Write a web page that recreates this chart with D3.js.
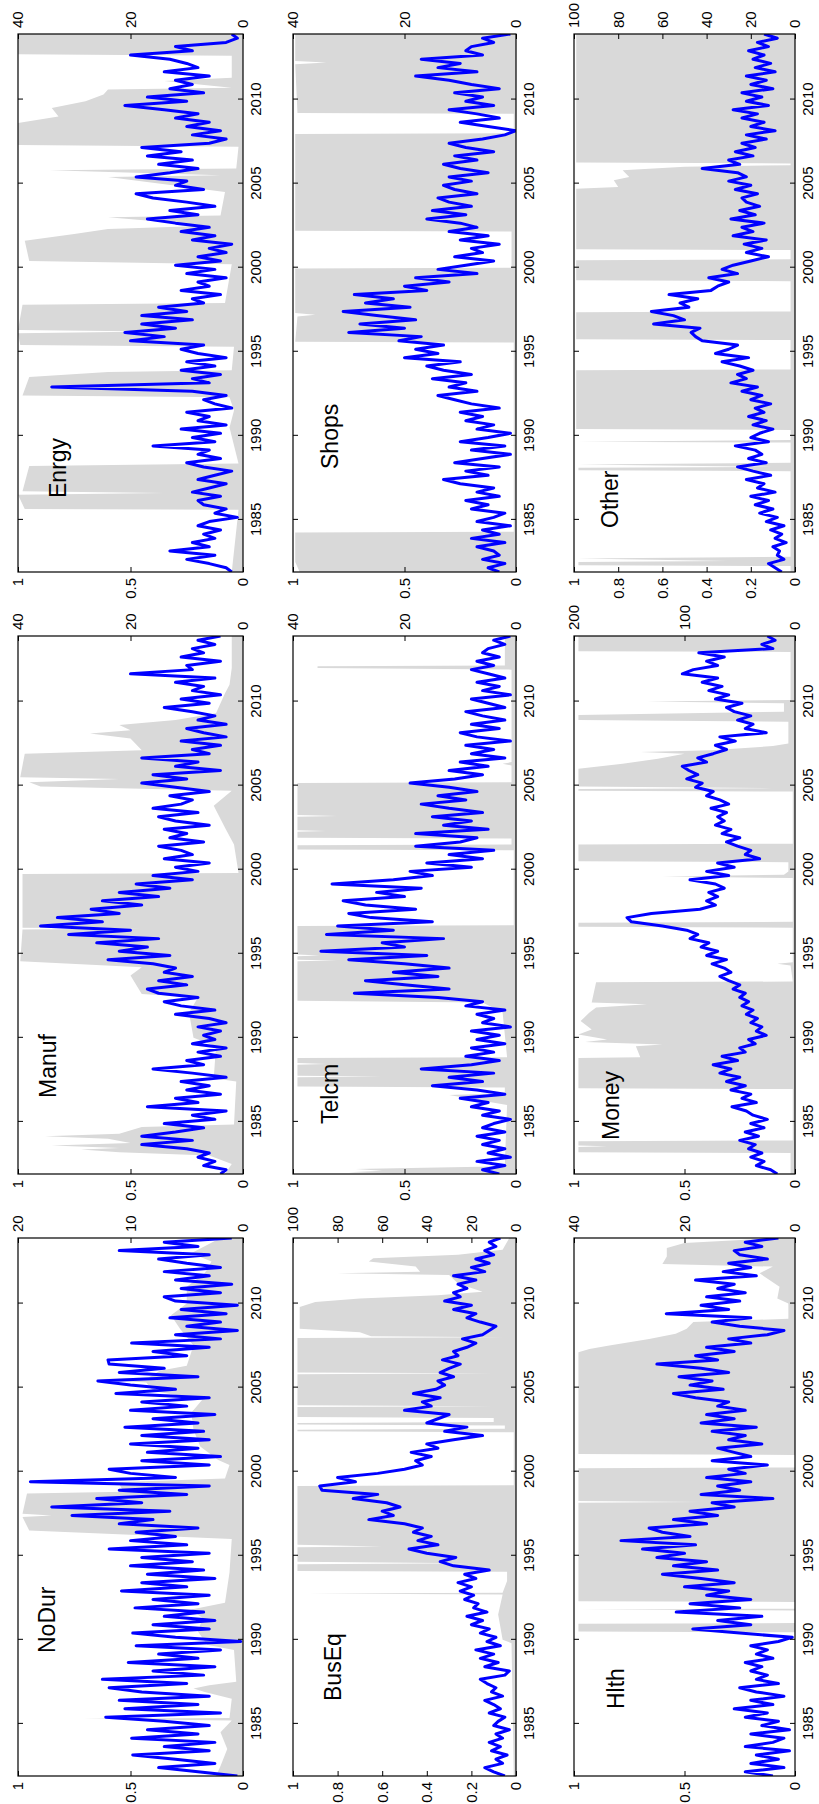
<!DOCTYPE html>
<html>
<head>
<meta charset="utf-8">
<script src="https://cdn.jsdelivr.net/npm/d3@7"></script>
<style>
  body { margin: 0; background: #fff; }
  text { font-family: "Liberation Sans", Arial, Helvetica, sans-serif; }
</style>
</head>
<body>
<div id="chart"></div>
<script>
// industries, in the order of the original (landscape) 3x3 grid
const industries = ["NoDur", "Manuf", "Enrgy", "BusEq", "Telcm", "Shops", "Hlth", "Money", "Other"];
const volMax = [20, 40, 40, 100, 40, 40, 40, 200, 100];
const volTicks = [
  [0, 10, 20], [0, 20, 40], [0, 20, 40],
  [0, 20, 40, 60, 80, 100], [0, 20, 40], [0, 20, 40],
  [0, 20, 40], [0, 100, 200], [0, 20, 40, 60, 80, 100]
];
const probTicks = [
  [0, 0.5, 1], [0, 0.5, 1], [0, 0.5, 1],
  [0, 0.2, 0.4, 0.6, 0.8, 1], [0, 0.5, 1], [0, 0.5, 1],
  [0, 0.5, 1], [0, 0.5, 1], [0, 0.2, 0.4, 0.6, 0.8, 1]
];
const yearTicks = [1985, 1990, 1995, 2000, 2005, 2010];
const yearDomain = [1981.9, 2013.9];

// volatility (blue, right axis), quarterly readings starting at seriesStart
const seriesStart = 1981.9, seriesStep = 0.25;

const volNoDur = [0.5,
  4, 7.5, 2.5, 6,  9.8, 3, 7, 2.5,  9.9, 4, 8.5, 3,  7, 12.2, 2, 10.5,
  4, 11, 3, 9,  11.9, 5, 12.5, 3.5,  8, 2.5, 10.2, 4,  7.5, 2, 9.5, 0.2,
  6, 9.8, 3, 8,  2.5, 7, 3.5, 9.6,  4, 8, 3, 10.8,  5, 9, 2.5, 8.5,
  3.5, 10, 4.5, 9,  3, 11.9, 5, 10,  6, 9.5, 4, 11,  8, 15.2, 6.5, 17,
  9, 13, 5, 11,  3, 18.9, 6, 10,  11.9, 3, 9, 2,  8.5, 4, 10, 3,
  9, 3.5, 10.5, 4,  8, 2.5, 10, 5,  9, 3, 11.3, 6,  10, 12.9, 4, 11,
  7, 11.9, 12, 5,  8, 3, 9.9, 2,  6, 0.5, 5, 2,  6.5, 1.5, 5.5, 0.5,
  6, 7, 2, 5.5,  1, 6, 3, 7,  2, 5, 7.5, 3,  11, 4, 7, 1];

const volManuf = [4,
  3, 7, 5, 8,  6, 10, 18, 9,  18, 12, 7, 14,  5, 9, 3, 17,
  8, 12, 4, 10,  6, 11, 3, 9,  16, 7, 10, 4,  8, 3, 9, 5,
  7, 4, 8, 3,  6, 12, 5, 11,  14, 8, 15, 17,  10, 15, 9, 14,
  12, 16, 24, 13,  22, 17, 26, 15,  31, 20, 36, 25,  33, 22, 27, 18,
  25, 15, 22, 13,  19, 9, 16, 8,  12, 6, 14, 9,  11, 15, 7, 13,
  10, 14, 6, 12,  15, 8, 16, 11,  9, 13, 6, 12,  18, 10, 16, 4,
  12, 8, 18, 6,  9, 4, 11, 3,  7, 10, 3, 8,  5, 9, 14, 6,
  11, 4, 9, 7,  12, 5, 20, 9,  10, 4, 11, 7,  9, 5, 8, 4];

const volEnrgy = [2,
  3, 6, 10, 5,  13, 6, 9, 5,  7, 4, 8, 6,  1, 5, 3, 7,
  8, 4, 9, 6,  3, 8, 5, 2,  7, 10, 4, 8,  6, 16, 5, 9,
  4, 11, 3, 8,  6, 10, 2, 5,  7, 3, 9, 34,  6, 9, 4, 11,
  5, 10, 3, 8,  11, 7, 20, 14,  21, 12, 18, 9,  18, 10, 15, 7,
  9, 4, 11, 6,  8, 3, 10, 5,  12, 4, 8, 3,  6, 2, 9, 5,
  11, 6, 12, 17,  8, 13, 5, 10,  16, 19, 7, 12,  10, 19, 13, 8,
  15, 9, 17, 11,  18, 6, 3, 9,  4, 10, 6, 12,  8, 14, 21, 10,
  17, 7, 13, 9,  12, 6, 14, 8,  10, 13, 20, 9,  12, 3, 1, 2];

const volBusEq = [5,
  10, 14, 6, 9,  4, 11, 7, 12,  6, 9, 3, 10,  8, 5, 12, 7,
  10, 14, 6, 11,  9, 13, 16, 5,  3, 14, 8, 16,  10, 18, 7, 13,
  9, 16, 12, 20,  15, 22, 13, 19,  17, 23, 19, 25,  20, 26, 18, 23,
  12, 28, 34, 27,  40, 48, 35, 44,  38, 46, 42, 50,  66, 55, 60, 52,
  58, 73, 62, 87,  88, 72, 80, 62,  50, 42, 45, 38,  47, 35, 40, 28,
  15, 32, 22, 40,  35, 30, 50, 38,  42, 34, 46, 36,  32, 35, 28, 34,
  30, 25, 33, 26,  28, 22, 18, 24,  15, 12, 9, 16,  22, 18, 28, 20,
  32, 25, 28, 22,  26, 18, 28, 14,  20, 12, 18, 10,  14, 9, 12, 7];

const volTelcm = [3,
  6, 2, 7, 1,  5, 2, 6, 3,  7, 2, 6, 4,  1, 6, 3, 8,
  5, 10, 2, 7,  15, 6, 12, 4,  17, 8, 3, 9,  4, 8, 2, 7,
  3, 8, 1, 6,  4, 7, 2, 9,  6, 14, 29, 12,  20, 27, 14, 22,
  12, 20, 30, 16,  35, 20, 24, 13,  34, 22, 32, 15,  26, 30, 18, 27,
  31, 20, 25, 17,  33, 22, 15, 19,  8, 16, 6, 12,  4, 18, 10, 7,
  18, 5, 13, 8,  15, 6, 12, 17,  9, 14, 7, 12,  19, 11, 6, 12,
  5, 10, 2, 8,  4, 9, 1, 7,  10, 3, 8, 2,  6, 9, 2, 5,
  8, 1, 6, 3,  7, 2, 5, 8,  4, 7, 3, 6,  5, 2, 4, 1];

const volShops = [3,
  5, 2, 6, 3,  4, 7, 2, 8,  3, 6, 1, 7,  4, 2, 8, 5,
  9, 3, 7, 4,  10, 13, 5, 9,  3, 11, 6, 1,  8, 2, 10, 5,
  1, 7, 4, 9,  6, 10, 3, 8,  11, 14, 7, 12,  9, 15, 8, 13,
  16, 10, 20, 14,  18, 13, 21, 17,  30, 20, 28, 18,  25, 31, 19, 27,
  22, 29, 16, 20,  12, 18, 7, 14,  9, 4, 11, 6,  8, 3, 10, 5,
  12, 7, 10, 16,  9, 15, 8, 12,  14, 7, 11, 13,  8, 12, 5, 10,
  13, 7, 11, 4,  9, 12, 6, 2,  0, 5, 10, 3,  7, 12, 4, 9,
  6, 11, 3, 8,  12, 18, 7, 14,  10, 17, 6, 9,  8, 4, 6, 1];

const volHlth = [4,
  9, 2, 8, 3,  7, 1, 9, 4,  2, 8, 1, 6,  3, 9, 5, 11,
  4, 8, 2, 7,  10, 3, 7, 5,  8, 6, 9, 4,  7, 5, 8, 3,
  0.5, 10, 18.5, 8,  14, 6, 21.5, 10,  19, 8, 16, 12,  20, 11, 17, 24,
  14, 22, 16, 25,  20, 27.6, 18, 31.5,  19, 24, 26.4, 16,  22, 14, 19, 11,
  15, 4, 17, 10,  14, 8, 16, 9,  12, 5, 15, 8,  11, 14, 6, 12,
  9, 15, 7, 17,  11, 16, 9, 14,  12, 18, 22, 13,  19, 15, 21, 12,
  17, 25, 14, 18,  11, 16, 8, 12,  5, 2, 10, 15,  8, 23.3, 12, 17,
  10, 16, 9, 14,  11, 18, 7, 13,  8, 12, 5, 10,  11, 6, 9, 3];

const volMoney = [16,
  22, 35, 28, 40,  30, 42, 36, 50,  33, 45, 28, 40,  25, 38, 44, 57,
  35, 48, 40, 58,  45, 62, 50, 68,  58, 74, 52, 66,  45, 50, 36, 42,
  26, 35, 30, 40,  34, 44, 38, 48,  42, 50, 45, 56,  50, 60, 68, 58,
  64, 75, 62, 80,  70, 85, 78, 95,  88, 98, 120, 148,  152, 130, 86, 72,
  80, 70, 78, 64,  72, 95, 60, 80,  55, 70, 32, 45,  40, 52, 62, 50,
  66, 58, 72, 64,  70, 62, 76, 60,  68, 80, 74, 90,  84, 98, 88, 96,
  102, 80, 88, 74,  62, 72, 54, 68,  26, 45, 38, 52,  40, 55, 62, 48,
  72, 60, 78, 66,  84, 70, 102, 92,  70, 80, 64, 87,  20, 30, 18, 25];

const volOther = [6,
  9, 12, 5, 8,  7, 10, 4, 9,  6, 11, 5, 13,  8, 16, 10, 18,
  12, 20, 9, 17,  14, 22, 11, 19,  26, 13, 21, 15,  18, 27, 12, 20,
  16, 10, 19, 13,  21, 14, 18, 11,  20, 15, 24, 17,  29, 22, 26, 19,
  25, 33, 21, 36,  30, 26, 42, 45,  47, 43, 64, 50,  55, 65, 48, 52,
  44, 57, 38, 35,  30, 39, 26, 33,  28, 20, 12, 22,  15, 23, 13, 28,
  19, 24, 14, 29,  18, 25, 16, 22,  24, 17, 27, 20,  30, 22, 26, 42,
  25, 30, 19, 27,  18, 24, 13, 22,  9, 20, 14, 24,  17, 28, 12, 22,
  15, 24, 10, 20,  13, 22, 9, 18,  11, 19, 14, 21,  12, 17, 8, 14];

// regime probability (grey area, left axis): [year, probability]
const probNoDur = [[1981.9, 0.12], [1982.5, 0.1], [1983.5, 0.07], [1984.5, 0.1], [1985.2, 0.05], [1985.3, 0.71],
  [1985.35, 0.06], [1986.5, 0.05], [1986.9, 0.17], [1987.1, 0.22], [1987.3, 0.15], [1987.5, 0.03], [1989.4, 0.04],
  [1989.7, 0.16], [1990.5, 0.2], [1991.3, 0.18], [1991.8, 0.23], [1992.2, 0.08], [1994.0, 0.06], [1996.0, 0.05],
  [1996.5, 0.95], [1997.3, 0.98], [1997.4, 0.85], [1997.5, 0.98], [1998.7, 0.96], [1998.8, 0.53], [1999.25, 0.55],
  [1999.3, 0.92], [1999.4, 0.5], [1999.6, 0.08], [2000.4, 0.06], [2000.7, 0.11], [2001.5, 0.19], [2002.5, 0.22],
  [2003.5, 0.23], [2004.3, 0.18], [2004.8, 0.4], [2005.3, 0.43], [2005.5, 0.65], [2005.6, 0.42], [2006.0, 0.37],
  [2006.3, 0.25], [2007.5, 0.22], [2008.5, 0.28], [2009.3, 0.32], [2010.0, 0.25], [2011.0, 0.25], [2011.8, 0.17],
  [2012.5, 0.14], [2013.0, 0.23], [2013.9, 0.1]];

const probManuf = [[1981.9, 0.08], [1982.5, 0.05], [1983.0, 0.15], [1983.2, 0.55], [1983.35, 0.72], [1983.45, 0.55],
  [1983.6, 0.85], [1983.75, 0.5], [1984.0, 0.6], [1984.15, 0.88], [1984.3, 0.55], [1984.7, 0.45], [1984.85, 0.04],
  [1987.4, 0.03], [1987.6, 0.13], [1989.5, 0.12], [1990.0, 0.22], [1991.5, 0.24], [1992.4, 0.2], [1992.6, 0.45],
  [1993.7, 0.5], [1994.2, 0.45], [1994.55, 0.99], [1996.45, 0.98], [1996.5, 0.45], [1996.55, 0.98], [1999.75, 0.98],
  [1999.8, 0.02], [2001.5, 0.04], [2002.5, 0.08], [2003.8, 0.13], [2004.7, 0.05], [2004.95, 0.9], [2005.2, 0.95],
  [2005.4, 0.55], [2005.5, 0.99], [2006.9, 0.97], [2007.1, 0.45], [2007.8, 0.5], [2008.1, 0.68], [2008.3, 0.5],
  [2008.6, 0.55], [2008.9, 0.3], [2009.3, 0.12], [2010.5, 0.08], [2011.0, 0.06], [2012.0, 0.05], [2013.9, 0.05]];

const probEnrgy = [[1981.9, 0.05], [1985.6, 0.02], [1985.65, 0.97], [1986.5, 1], [1986.6, 0.35], [1986.7, 0.98],
  [1988.2, 0.95], [1988.35, 0.02], [1990.5, 0.06], [1991.5, 0.04], [1992.3, 0.06], [1992.4, 0.98], [1993.5, 0.95],
  [1993.8, 0.6], [1993.9, 0.05], [1995.3, 0.04], [1995.4, 0.99], [1996.1, 1], [1996.2, 0.4], [1996.3, 1],
  [1997.8, 0.98], [1997.9, 0.08], [2000.2, 0.05], [2000.4, 0.95], [2001.6, 0.97], [2002.0, 0.75], [2002.3, 0.6],
  [2002.5, 0.15], [2003.0, 0.6], [2003.1, 0.1], [2004.5, 0.08], [2005.4, 0.6], [2005.5, 0.1], [2005.8, 0.86],
  [2005.9, 0.03], [2007.2, 0.02], [2007.3, 1], [2008.6, 1], [2009.0, 0.82], [2009.5, 0.85], [2009.9, 0.7],
  [2010.3, 0.62], [2010.6, 0.6], [2010.7, 0.05], [2011.1, 0.35], [2011.3, 0.05], [2012.6, 0.05], [2012.7, 1],
  [2013.9, 1]];

const probBusEq = [[1981.9, 0.01], [1989.8, 0.02], [1990.0, 0.06], [1991.5, 0.08], [1992.7, 0.06], [1992.75, 0.93],
  [1992.8, 0.06], [1993.5, 0.04], [1994.05, 0.04], [1994.1, 0.98], [1994.5, 0.98], [1994.55, 0.2], [1994.65, 0.98],
  [1995.5, 0.98], [1995.55, 0.6], [1995.65, 0.98], [1999.15, 0.98], [1999.2, 0.01], [2002.35, 0.01], [2002.4, 0.98],
  [2002.5, 0.98], [2002.55, 0.05], [2002.75, 0.05], [2002.8, 0.98], [2002.9, 0.98], [2002.95, 0.1], [2003.2, 0.1],
  [2003.25, 0.98], [2003.85, 0.98], [2003.9, 0.1], [2003.95, 0.98], [2005.8, 0.98], [2005.85, 0.1], [2005.9, 0.98],
  [2007.95, 0.98], [2008.0, 0.05], [2008.05, 0.65], [2008.3, 0.7], [2008.5, 0.97], [2009.8, 0.97], [2010.1, 0.9],
  [2010.3, 0.7], [2010.5, 0.35], [2010.7, 0.15], [2011.2, 0.26], [2011.7, 0.3], [2011.8, 0.8], [2011.9, 0.43],
  [2012.2, 0.45], [2012.5, 0.66], [2012.7, 0.64], [2012.9, 0.26], [2013.2, 0.06], [2013.9, 0.03]];

const probTelcm = [[1981.9, 0.55], [1982.0, 0.75], [1982.1, 0.6], [1982.2, 0.72], [1982.35, 0.1], [1982.5, 0.05],
  [1986.0, 0.04], [1986.6, 0.3], [1986.7, 0.05], [1987.05, 0.05], [1987.1, 0.98], [1987.65, 0.98], [1987.7, 0.6],
  [1987.75, 0.98], [1988.4, 0.98], [1988.45, 0.85], [1988.5, 0.98], [1988.8, 0.98], [1988.85, 0.04], [1991.5, 0.06],
  [1992.1, 0.15], [1992.2, 0.98], [1994.55, 0.98], [1994.6, 0.8], [1994.65, 0.98], [1994.85, 0.98], [1994.9, 0.88],
  [1994.95, 0.98], [1996.65, 0.98], [1996.7, 0.01], [2001.15, 0.01], [2001.2, 0.98], [2001.45, 0.98], [2001.5, 0.02],
  [2001.85, 0.02], [2001.9, 0.98], [2002.25, 0.98], [2002.3, 0.85], [2002.35, 0.98], [2003.15, 0.98], [2003.2, 0.8],
  [2003.25, 0.98], [2005.15, 0.98], [2005.2, 0.02], [2006.2, 0.02], [2006.3, 0.06], [2006.4, 0.02], [2011.9, 0.02],
  [2012.0, 0.89], [2012.1, 0.89], [2012.15, 0.05], [2013.9, 0.05]];

const probShops = [[1981.9, 0.97], [1982.5, 0.99], [1984.25, 0.99], [1984.3, 0.01], [1995.55, 0.01], [1995.6, 0.99],
  [1997.1, 0.98], [1997.2, 0.9], [1997.3, 0.99], [1999.95, 0.99], [2000.0, 0.02], [2002.15, 0.02], [2002.2, 0.99],
  [2007.95, 0.99], [2008.0, 0.01], [2009.15, 0.01], [2009.2, 0.98], [2012.1, 0.99], [2012.2, 0.85], [2012.3, 0.99],
  [2013.9, 0.99]];

const probHlth = [[1981.9, 0], [1990.45, 0], [1990.5, 0.98], [1990.95, 0.98], [1991.0, 0], [1991.75, 0],
  [1991.8, 0.97], [1991.85, 0], [1992.25, 0], [1992.3, 0.98], [1998.15, 0.98], [1998.2, 0.42], [1998.25, 0.98],
  [2000.2, 0.98], [2000.25, 0], [2001.0, 0], [2001.05, 0.98], [2007.1, 0.98], [2007.3, 0.93], [2007.5, 0.84],
  [2007.7, 0.75], [2007.9, 0.66], [2008.2, 0.54], [2008.5, 0.49], [2008.9, 0.46], [2009.1, 0.03], [2010.0, 0.03],
  [2010.3, 0.08], [2011.0, 0.07], [2011.8, 0.16], [2012.2, 0.1], [2012.35, 0.6], [2012.8, 0.58], [2013.3, 0.58],
  [2013.6, 0.5], [2013.9, 0.08]];

const probMoney = [[1981.9, 0.02], [1983.15, 0.02], [1983.2, 0.98], [1983.5, 0.98], [1983.55, 0.85], [1983.6, 0.98],
  [1983.85, 0.98], [1983.9, 0.01], [1986.95, 0.01], [1987.0, 0.98], [1988.8, 0.98], [1988.85, 0.7], [1989.5, 0.72],
  [1989.6, 0.6], [1989.75, 0.95], [1989.9, 0.85], [1990.2, 0.98], [1990.5, 0.92], [1991.0, 0.97], [1991.5, 0.93],
  [1991.8, 0.9], [1992.0, 0.67], [1992.1, 0.92], [1993.3, 0.9], [1993.35, 0.01], [1994.3, 0.02], [1994.4, 0.08],
  [1994.5, 0.01], [1996.55, 0.01], [1996.6, 0.98], [1996.85, 0.98], [1996.9, 0.01], [1999.5, 0.01], [1999.6, 0.6],
  [1999.7, 0.05], [1999.9, 0.03], [2000.45, 0.03], [2000.5, 0.98], [2001.5, 0.98], [2001.55, 0.01], [2004.65, 0.01],
  [2004.7, 0.98], [2004.8, 0.98], [2004.85, 0.1], [2004.95, 0.98], [2006.0, 0.98], [2006.3, 0.78], [2006.6, 0.62],
  [2006.9, 0.5], [2007.0, 0.7], [2007.1, 0.38], [2007.35, 0.1], [2007.5, 0.03], [2008.8, 0.03], [2008.9, 0.98],
  [2009.2, 0.98], [2009.4, 0.05], [2009.9, 0.05], [2010.0, 0.67], [2010.1, 0.02], [2012.95, 0.02], [2013.0, 0.98],
  [2013.9, 0.98]];

const probOther = [[1981.9, 0.02], [1982.25, 0.02], [1982.3, 0.98], [1982.5, 0.98], [1982.55, 0.3], [1982.7, 0.98],
  [1982.8, 0.02], [1987.9, 0.02], [1987.95, 0.98], [1988.1, 0.98], [1988.15, 0.1], [1988.3, 0.98], [1988.4, 0.02],
  [1989.6, 0.02], [1989.65, 0.98], [1989.75, 0.02], [1990.35, 0.02], [1990.4, 0.99], [1993.9, 0.99], [1993.95, 0.02],
  [1995.7, 0.02], [1995.75, 0.99], [1997.35, 0.99], [1997.4, 0.02], [1999.2, 0.02], [1999.25, 0.99], [2000.45, 0.99],
  [2000.5, 0.02], [2001.05, 0.02], [2001.1, 0.99], [2004.7, 0.99], [2004.8, 0.8], [2005.2, 0.82], [2005.4, 0.75],
  [2005.8, 0.78], [2006.0, 0.5], [2006.1, 0.02], [2006.2, 0.02], [2006.25, 0.99], [2013.9, 0.99]];

const volSeries = [volNoDur, volManuf, volEnrgy, volBusEq, volTelcm, volShops, volHlth, volMoney, volOther];
const probSeries = [probNoDur, probManuf, probEnrgy, probBusEq, probTelcm, probShops, probHlth, probMoney, probOther];

// ---- layout (the figure is drawn landscape, then turned a quarter to the left) ----
const W = 1804, H = 819;
const colX = [[28, 566], [630, 1168], [1232, 1770]];
const rowY = [[18, 243], [293, 516], [574, 795]];
// panel name offsets from the top-left corner of each axes box
const nameOffset = [[123, 37], [76, 38], [74, 48], [75, 48], [50, 45], [103, 45], [67, 50], [34, 45], [44, 44]];

const svg = d3.select("#chart").append("svg")
  .attr("width", H)
  .attr("height", W);

const fig = svg.append("g")
  .attr("transform", "translate(0," + W + ") rotate(-90)");

industries.forEach((name, k) => {
  const [x0, x1] = colX[k % 3];
  const [y0, y1] = rowY[Math.floor(k / 3)];

  const x = d3.scaleLinear().domain(yearDomain).range([x0, x1]);
  const yP = d3.scaleLinear().domain([0, 1]).range([y1, y0]);
  const yV = d3.scaleLinear().domain([0, volMax[k]]).range([y1, y0]);

  const g = fig.append("g");

  g.append("clipPath").attr("id", "clip" + k)
    .append("rect")
      .attr("x", x0).attr("y", y0)
      .attr("width", x1 - x0).attr("height", y1 - y0);

  g.append("path")
    .datum(probSeries[k])
    .attr("clip-path", "url(#clip" + k + ")")
    .attr("fill", "#d9d9d9")
    .attr("d", d3.area()
      .x(d => x(d[0]))
      .y0(yP(0))
      .y1(d => yP(d[1])));

  g.append("path")
    .datum(volSeries[k])
    .attr("clip-path", "url(#clip" + k + ")")
    .attr("fill", "none")
    .attr("stroke", "#0000ff")
    .attr("stroke-width", 3)
    .attr("stroke-linejoin", "round")
    .attr("d", d3.line()
      .x((d, i) => x(seriesStart + i * seriesStep))
      .y(d => yV(d)));

  g.append("rect")
    .attr("x", x0).attr("y", y0)
    .attr("width", x1 - x0).attr("height", y1 - y0)
    .attr("fill", "none")
    .attr("stroke", "#000")
    .attr("stroke-width", 1.2);

  const styleAxis = sel => {
    sel.select(".domain").remove();
    sel.selectAll("line").attr("stroke", "#000");
    sel.selectAll("text").attr("fill", "#000").style("font-size", "15px");
  };

  g.append("g")
    .attr("transform", "translate(0," + y1 + ")")
    .call(d3.axisBottom(x).tickValues(yearTicks).tickFormat(d3.format("d")).tickSize(-5).tickPadding(7))
    .call(styleAxis);

  g.append("g")
    .attr("transform", "translate(0," + y0 + ")")
    .call(d3.axisTop(x).tickValues(yearTicks).tickFormat("").tickSize(-5))
    .call(styleAxis);

  g.append("g")
    .attr("transform", "translate(" + x0 + ",0)")
    .call(d3.axisLeft(yP).tickValues(probTicks[k]).tickFormat(d => String(d)).tickSize(-5).tickPadding(6))
    .call(styleAxis);

  g.append("g")
    .attr("transform", "translate(" + x1 + ",0)")
    .call(d3.axisRight(yV).tickValues(volTicks[k]).tickFormat(d => String(d)).tickSize(-5).tickPadding(6))
    .call(styleAxis);

  g.append("text")
    .attr("x", x0 + nameOffset[k][0])
    .attr("y", y0 + nameOffset[k][1])
    .attr("fill", "#000")
    .style("font-size", "23px")
    .text(name);
});
</script>
</body>
</html>
